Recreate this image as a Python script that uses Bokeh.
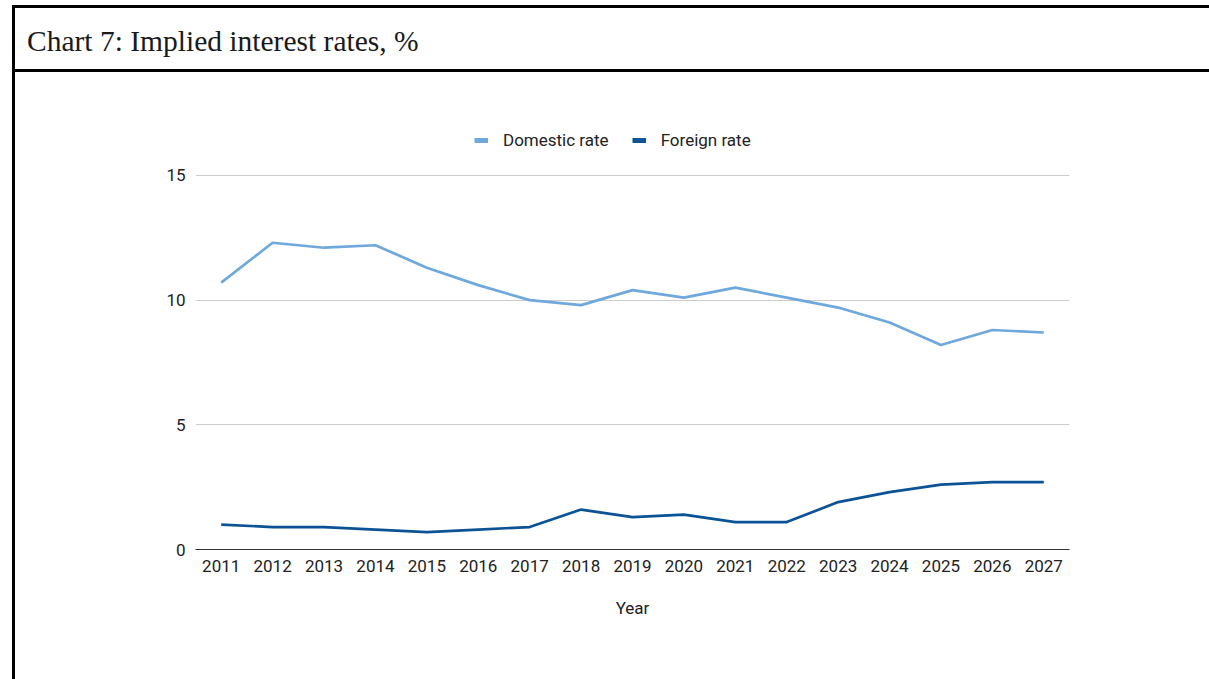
from bokeh.plotting import figure
from bokeh.models import Div, Legend, LegendItem, FixedTicker, Range1d, ColumnDataSource
from bokeh.layouts import column
from bokeh.embed import file_html
from bokeh.resources import INLINE

years = list(range(2011, 2028))
domestic = [10.7, 12.3, 12.1, 12.2, 11.3, 10.6, 10.0, 9.8, 10.4, 10.1, 10.5, 10.1, 9.7, 9.1, 8.2, 8.8, 8.7]
foreign = [1.0, 0.9, 0.9, 0.8, 0.7, 0.8, 0.9, 1.6, 1.3, 1.4, 1.1, 1.1, 1.9, 2.3, 2.6, 2.7, 2.7]
y_ticks = [0, 5, 10, 15]
title_text = "Chart 7: Implied interest rates, %"
series_names = ["Domestic rate", "Foreign rate"]
colors = ["#6fa8dc", "#0b5394"]

header = Div(
    text=(
        '<div style="position:relative;width:1209px;height:72px;">'
        '<div style="position:absolute;left:12px;top:5px;width:1210px;height:67px;box-sizing:border-box;'
        'border-top:3px solid #000;border-left:3px solid #000;border-bottom:3px solid #000;"></div>'
        '<div style="position:absolute;left:12px;top:5px;width:3px;height:680px;background:#000;z-index:5;"></div>'
        '<div style="position:absolute;left:27px;top:24px;font-family:\'Liberation Serif\';'
        f'font-size:29.5px;line-height:34px;color:#1a1a1a;white-space:nowrap;">{title_text}</div>'
        '</div>'
    ),
    width=1209, height=72, margin=(0, 0, 0, 0),
)

src = ColumnDataSource(dict(year=years, domestic=domestic, foreign=foreign))
nan = float("nan")
legend_src = ColumnDataSource(dict(x=[nan, nan], y=[nan, nan]))

# frame spans from the legend row (y=130) to the baseline (y=549)
p = figure(width=1209, height=607, output_backend="svg", toolbar_location=None,
           x_range=Range1d(2010.5, 2027.5), y_range=Range1d(0, 16.8),
           min_border_left=195, min_border_right=140, min_border_top=58, min_border_bottom=130,
           margin=(0, 0, 0, 0))
p.outline_line_color = None
p.background_fill_color = "white"
p.border_fill_color = "white"

r1 = p.line("year", "domestic", source=src, line_color=colors[0], line_width=2.7)
r2 = p.line("year", "foreign", source=src, line_color=colors[1], line_width=2.7)

d1 = p.line("x", "y", source=legend_src, line_color=colors[0], line_width=5, line_cap="butt")
d2 = p.line("x", "y", source=legend_src, line_color=colors[1], line_width=5, line_cap="butt")

p.xaxis.ticker = FixedTicker(ticks=years)
p.yaxis.ticker = FixedTicker(ticks=y_ticks)
p.xgrid.grid_line_color = None
p.ygrid.grid_line_color = "#cccccc"
p.ygrid.grid_line_width = 1

for ax in (p.xaxis[0], p.yaxis[0]):
    ax.major_tick_line_color = None
    ax.minor_tick_line_color = None
    ax.major_label_text_font = "Roboto"
    ax.major_label_text_font_size = "17px"
    ax.major_label_text_color = "#222222"
p.yaxis.axis_line_color = None
p.yaxis.major_label_standoff = 4
p.xaxis.axis_line_color = "#333333"
p.xaxis.axis_line_width = 1
p.xaxis.major_label_standoff = 4
p.xaxis.axis_label = "Year"
p.xaxis.axis_label_text_font = "Roboto"
p.xaxis.axis_label_text_font_size = "17px"
p.xaxis.axis_label_text_font_style = "normal"
p.xaxis.axis_label_text_color = "#222222"
p.xaxis.axis_label_standoff = 23

legend = Legend(items=[LegendItem(label=series_names[0], renderers=[d1]),
                       LegendItem(label=series_names[1], renderers=[d2])],
                location=(279, 399), orientation="horizontal",
                glyph_width=14, glyph_height=20, label_standoff=15, spacing=23,
                padding=0, margin=0, border_line_color=None, background_fill_alpha=0,
                label_text_font="Roboto", label_text_font_size="17px", label_text_color="#222222")
p.add_layout(legend)

layout = column(header, p, spacing=0)
open("out.html", "w").write(file_html(layout, INLINE))
